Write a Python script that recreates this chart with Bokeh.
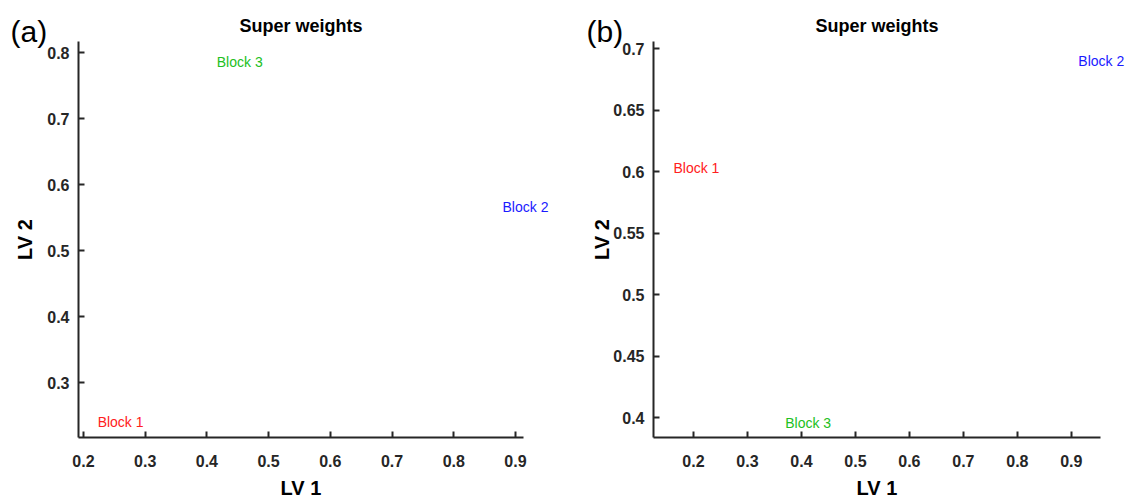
from bokeh.plotting import figure
from bokeh.layouts import row
from bokeh.models import Range1d, FixedTicker, Label
from bokeh.embed import file_html
from bokeh.resources import INLINE

# ---- data ----
blocks = ["Block 1", "Block 2", "Block 3"]
colors = ["#ff2020", "#1a1aff", "#22c022"]

a_lv1 = [0.223, 0.879, 0.416]
a_lv2 = [0.240, 0.566, 0.786]
b_lv1 = [0.163, 0.913, 0.370]
b_lv2 = [0.603, 0.690, 0.396]

a_xticks = [0.2, 0.3, 0.4, 0.5, 0.6, 0.7, 0.8, 0.9]
a_xlabels = ["0.2", "0.3", "0.4", "0.5", "0.6", "0.7", "0.8", "0.9"]
a_yticks = [0.3, 0.4, 0.5, 0.6, 0.7, 0.8]
a_ylabels = ["0.3", "0.4", "0.5", "0.6", "0.7", "0.8"]
b_xticks = [0.2, 0.3, 0.4, 0.5, 0.6, 0.7, 0.8, 0.9]
b_xlabels = ["0.2", "0.3", "0.4", "0.5", "0.6", "0.7", "0.8", "0.9"]
b_yticks = [0.4, 0.45, 0.5, 0.55, 0.6, 0.65, 0.7]
b_ylabels = ["0.4", "0.45", "0.5", "0.55", "0.6", "0.65", "0.7"]

a_xlim = (0.192, 0.913)
a_ylim = (0.217, 0.817)
b_xlim = (0.126, 0.954)
b_ylim = (0.384, 0.706)

FONT = "Liberation Sans"
AX = "#262626"
TOP, BOTTOM, H = 41, 62, 499


def make_panel(tag, tag_x, xs, ys, xlim, ylim, xt, xl, yt, yl, W, bl, br, ylab_standoff):
    # The frame covers the whole canvas so that texts may run past the axes;
    # the axes are pinned to the data limits and bounded to them.
    fw = W - bl - br
    fh = H - TOP - BOTTOM
    kx = (xlim[1] - xlim[0]) / fw
    ky = (ylim[1] - ylim[0]) / fh
    xr = Range1d(xlim[0] - bl * kx, xlim[1] + br * kx)
    yr = Range1d(ylim[0] - BOTTOM * ky, ylim[1] + TOP * ky)
    p = figure(width=W, height=H, output_backend="svg", toolbar_location=None,
               x_range=xr, y_range=yr,
               min_border_left=0, min_border_right=0,
               min_border_top=0, min_border_bottom=0)
    p.outline_line_color = None
    p.grid.visible = False
    p.background_fill_color = "white"
    p.border_fill_color = "white"

    xa, ya = p.xaxis[0], p.yaxis[0]
    xa.fixed_location = ylim[0]
    xa.bounds = xlim
    ya.fixed_location = xlim[0]
    ya.bounds = ylim

    for ax, ticks, labels, name, ls, als in ((xa, xt, xl, "LV 1", 17, 7),
                                             (ya, yt, yl, "LV 2", 9, ylab_standoff)):
        ax.ticker = FixedTicker(ticks=ticks)
        ax.major_label_overrides = {t: s for t, s in zip(ticks, labels)}
        ax.axis_line_color = AX
        ax.axis_line_width = 2
        ax.major_tick_line_color = AX
        ax.major_tick_line_width = 2
        ax.major_tick_in = 6
        ax.major_tick_out = 0
        ax.minor_tick_line_color = None
        ax.major_label_text_font = FONT
        ax.major_label_text_font_style = "bold"
        ax.major_label_text_font_size = "16px"
        ax.major_label_text_color = AX
        ax.major_label_standoff = ls
        ax.axis_label = name
        ax.axis_label_text_font = FONT
        ax.axis_label_text_font_style = "bold"
        ax.axis_label_text_font_size = "20px"
        ax.axis_label_text_color = "black"
        ax.axis_label_standoff = als

    for x, y, t, c in zip(xs, ys, blocks, colors):
        p.add_layout(Label(x=x, y=y, text=t, text_color=c, text_font=FONT,
                           text_font_size="14px", text_align="left",
                           text_baseline="middle"))

    # title and panel tag (screen units from the frame's lower-left = canvas lower-left)
    p.add_layout(Label(x=(bl + W - br) / 2, y=H - 25, x_units="screen", y_units="screen",
                       text="Super weights", text_font=FONT, text_font_size="18px",
                       text_font_style="bold", text_color="black",
                       text_align="center", text_baseline="middle"))
    p.add_layout(Label(x=tag_x, y=H - 31, x_units="screen", y_units="screen",
                       text=tag, text_font=FONT, text_font_size="30px", text_color="black",
                       text_baseline="middle", text_align="left"))
    return p


pa = make_panel("(a)", 10, a_lv1, a_lv2, a_xlim, a_ylim, a_xticks, a_xlabels, a_yticks, a_ylabels,
                564, 78, 41, 8)
pb = make_panel("(b)", 22, b_lv1, b_lv2, b_xlim, b_ylim, b_xticks, b_xlabels, b_yticks, b_ylabels,
                565, 89, 29, -3)

layout = row(pa, pb)
open("out.html", "w").write(file_html(layout, INLINE))
